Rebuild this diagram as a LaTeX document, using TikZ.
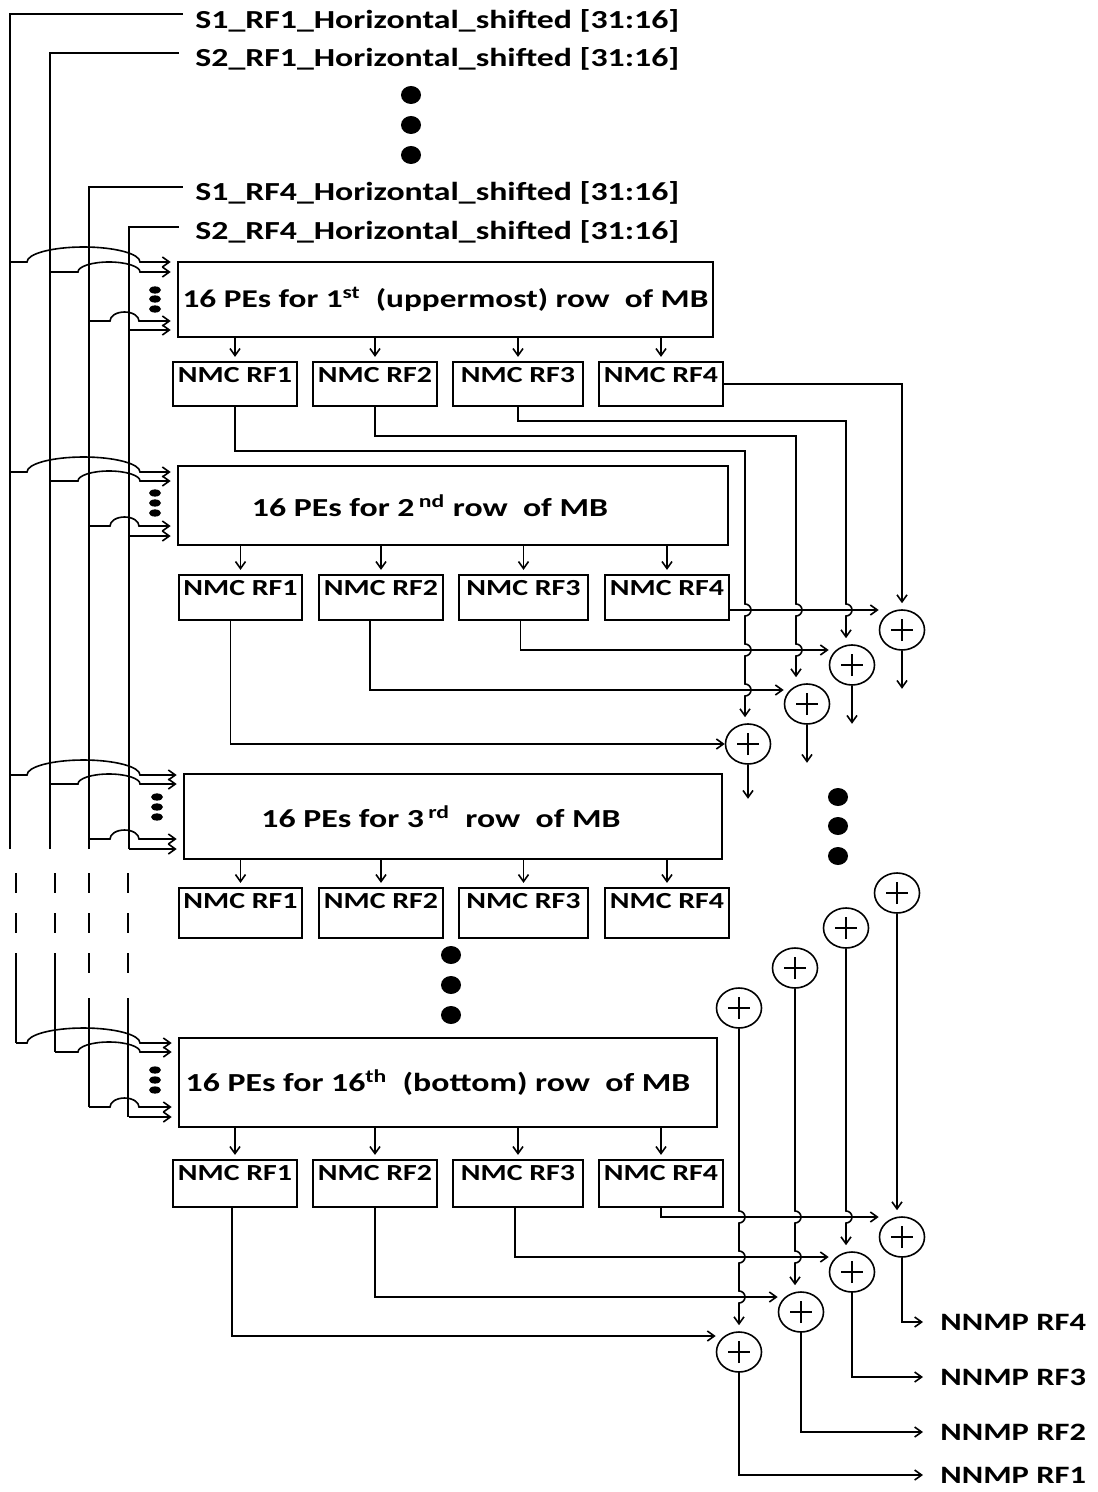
\documentclass[tikz,border=0pt]{standalone}
\usepackage{fontspec}
\setmainfont{Carlito}[FakeStretch=1.3]
\usetikzlibrary{arrows.meta,shapes.geometric}

\newcommand{\bigtxt}{\bfseries\fontsize{13}{15}\selectfont}
\newcommand{\boxtxt}{\bfseries\fontsize{11.5}{13}\selectfont}

% inputs of one PE block: bus x of line 1 and 2, the four heights, block
\newcommand{\pefeed}[7]{%
  \draw[wire,->,shorten >=3pt] (#1,#3) -- (27,#3) arc[start angle=180,end angle=0,x radius=28.25pt,y radius=7.5pt] -- (#7.west |- 0,#3);
  \draw[wire,->,shorten >=3pt] (#2,#4) -- (78,#4) arc[start angle=180,end angle=0,x radius=15.5pt,y radius=5pt] -- (#7.west |- 0,#4);
  \draw[wire,->,shorten >=3pt] (89,#5) -- (110,#5) arc[start angle=180,end angle=0,x radius=7.25pt,y radius=4.5pt] -- (#7.west |- 0,#5);
  \draw[wire,->,shorten >=3pt] (129,#6) -- (#7.west |- 0,#6);
}

\tikzset{
  wire/.style={line width=0.8pt},
  pebox/.style={draw, line width=1.3pt, inner sep=0pt, font=\bigtxt},
  nmcbox/.style={draw, line width=1.1pt, inner xsep=0pt, inner ysep=1pt, text height=9pt, font=\boxtxt},
  adder/.style={draw, line width=0.8pt, ellipse, minimum width=22.5pt, minimum height=20pt, inner sep=0pt,
    path picture={\draw[line width=0.7pt] ([xshift=-5.5pt]path picture bounding box.center) -- ([xshift=5.5pt]path picture bounding box.center)
      ([yshift=-5.5pt]path picture bounding box.center) -- ([yshift=5.5pt]path picture bounding box.center);}},
  busname/.style={font=\bigtxt, anchor=west, inner sep=0pt},
  outname/.style={font=\bfseries\fontsize{12.5}{15}\selectfont, anchor=west, inner sep=0pt},
}

\begin{document}
\begin{tikzpicture}[x=0.5pt,y=-0.5pt,>={Straight Barb[length=3.5pt,width=5pt]}]
\useasboundingbox (0,0) rectangle (1097,1492);

% Bus names
\node[busname] (s1rf1) at (195,21) {S1\_RF1\_Horizontal\_shifted [31:16]};
\node[busname] (s2rf1) at (195,59) {S2\_RF1\_Horizontal\_shifted [31:16]};
\node[busname] (s1rf4) at (195,193) {S1\_RF4\_Horizontal\_shifted [31:16]};
\node[busname] (s2rf4) at (195,232) {S2\_RF4\_Horizontal\_shifted [31:16]};

\fill (411,95) ellipse [x radius=5pt, y radius=4.5pt];
\fill (411,125) ellipse [x radius=5pt, y radius=4.5pt];
\fill (411,155) ellipse [x radius=5pt, y radius=4.5pt];

% Buses
\draw[wire] (10,849) |- ([xshift=-6pt,yshift=3.5pt]s1rf1.west);
\draw[wire] (50,849) |- ([xshift=-8pt,yshift=3pt]s2rf1.west);
\draw[wire] (89,849) |- ([xshift=-6pt,yshift=3pt]s1rf4.west);
\draw[wire] (129,849) |- ([xshift=-8pt,yshift=2.5pt]s2rf4.west);

\draw[wire] (16,873) -- (16,893) (16,913) -- (16,933) (16,953) -- (16,1043);
\draw[wire] (55,873) -- (55,893) (55,913) -- (55,933) (55,953) -- (55,1052);
\draw[wire] (89,873) -- (89,893) (89,913) -- (89,933) (89,953) -- (89,973) (89,998) -- (89,1107);
\draw[wire] (128,873) -- (128,893) (128,913) -- (128,933) (128,953) -- (128,973) (128,998) -- (128,1117);

% PE blocks
\node[pebox, minimum width=267.5pt, minimum height=37.5pt, font=\bfseries\fontsize{12.8}{15}\selectfont] (pe1) at (445.5,299.5) {16 PEs for 1\textsuperscript{st}\ \ (uppermost) row\ \ of MB};
\node[pebox, minimum width=275pt, minimum height=39.5pt] (pe2) at (453,505.5) {16 PEs for 2\,\textsuperscript{nd} row\ \ of MB\hspace*{23pt}};
\node[pebox, minimum width=269pt, minimum height=42.5pt] (pe3) at (453,816.5) {16 PEs for 3\,\textsuperscript{rd}\ \ row\ \ of MB\hspace*{12pt}};
\node[pebox, minimum width=269pt, minimum height=44.5pt] (pe4) at (448,1082.5) {16 PEs for 16\textsuperscript{th}\ \ (bottom) row\ \ of MB\hspace*{10pt}};

\pefeed{10}{50}{262}{272}{321}{330}{pe1}
\pefeed{10}{50}{472}{481}{526}{536}{pe2}
\pefeed{10}{50}{775}{784}{839}{849}{pe3}
\pefeed{16}{55}{1043}{1052}{1107}{1117}{pe4}

\fill (155,290) ellipse [x radius=3pt, y radius=1.8pt];
\fill (155,299) ellipse [x radius=3pt, y radius=1.8pt];
\fill (155,309) ellipse [x radius=3pt, y radius=1.8pt];
\fill (155,493) ellipse [x radius=3pt, y radius=1.8pt];
\fill (155,503) ellipse [x radius=3pt, y radius=1.8pt];
\fill (155,513) ellipse [x radius=3pt, y radius=1.8pt];
\fill (157,797) ellipse [x radius=3pt, y radius=1.8pt];
\fill (157,807) ellipse [x radius=3pt, y radius=1.8pt];
\fill (157,817) ellipse [x radius=3pt, y radius=1.8pt];
\fill (155,1070) ellipse [x radius=3pt, y radius=1.8pt];
\fill (155,1080) ellipse [x radius=3pt, y radius=1.8pt];
\fill (155,1090) ellipse [x radius=3pt, y radius=1.8pt];

% NMC register files
\node[nmcbox, text depth=11pt, minimum width=62pt] (nmc11) at (235,384) {NMC RF1};
\node[nmcbox, text depth=11pt, minimum width=62pt] (nmc12) at (375,384) {NMC RF2};
\node[nmcbox, text depth=11pt, minimum width=65pt] (nmc13) at (518,384) {NMC RF3};
\node[nmcbox, text depth=11pt, minimum width=62pt] (nmc14) at (661,384) {NMC RF4};

\node[nmcbox, text depth=11.5pt, minimum width=61.5pt] (nmc21) at (240.5,597.5) {NMC RF1};
\node[nmcbox, text depth=11.5pt, minimum width=62pt] (nmc22) at (381,597.5) {NMC RF2};
\node[nmcbox, text depth=11.5pt, minimum width=64.5pt] (nmc23) at (523.5,597.5) {NMC RF3};
\node[nmcbox, text depth=11.5pt, minimum width=62pt] (nmc24) at (667,597.5) {NMC RF4};

\node[nmcbox, text depth=14pt, minimum width=61.5pt] (nmc31) at (240.5,913) {NMC RF1};
\node[nmcbox, text depth=14pt, minimum width=62pt] (nmc32) at (381,913) {NMC RF2};
\node[nmcbox, text depth=14pt, minimum width=64.5pt] (nmc33) at (523.5,913) {NMC RF3};
\node[nmcbox, text depth=14pt, minimum width=62pt] (nmc34) at (667,913) {NMC RF4};

\node[nmcbox, text depth=12.5pt, minimum width=62pt] (nmc41) at (235,1183.5) {NMC RF1};
\node[nmcbox, text depth=12.5pt, minimum width=62pt] (nmc42) at (375,1183.5) {NMC RF2};
\node[nmcbox, text depth=12.5pt, minimum width=65pt] (nmc43) at (518,1183.5) {NMC RF3};
\node[nmcbox, text depth=12.5pt, minimum width=62pt] (nmc44) at (661,1183.5) {NMC RF4};

\draw[wire,shorten >=2pt] (nmc11.north |- pe1.south) edge[->] (nmc11.north) (nmc12.north |- pe1.south) edge[->] (nmc12.north)
  (nmc13.north |- pe1.south) edge[->] (nmc13.north) (nmc14.north |- pe1.south) edge[->] (nmc14.north);
\draw[wire,shorten >=2pt] (nmc21.north |- pe2.south) edge[->] (nmc21.north) (nmc22.north |- pe2.south) edge[->] (nmc22.north)
  (nmc23.north |- pe2.south) edge[->] (nmc23.north) (nmc24.north |- pe2.south) edge[->] (nmc24.north);
\draw[wire,shorten >=2pt] (nmc31.north |- pe3.south) edge[->] (nmc31.north) (nmc32.north |- pe3.south) edge[->] (nmc32.north)
  (nmc33.north |- pe3.south) edge[->] (nmc33.north) (nmc34.north |- pe3.south) edge[->] (nmc34.north);
\draw[wire,shorten >=2pt] (nmc41.north |- pe4.south) edge[->] (nmc41.north) (nmc42.north |- pe4.south) edge[->] (nmc42.north)
  (nmc43.north |- pe4.south) edge[->] (nmc43.north) (nmc44.north |- pe4.south) edge[->] (nmc44.north);

% Adders, rows 1 and 2
\node[adder] (a4) at (902,630) {};
\node[adder] (a3) at (852,665) {};
\node[adder] (a2) at (807,704) {};
\node[adder] (a1) at (748,744) {};

\draw[wire,->,shorten >=3pt] (nmc11.south) |- (745,451) -- (745,604) arc[start angle=90,end angle=-90,radius=3pt]
  -- (745,644) arc[start angle=90,end angle=-90,radius=3pt] -- (745,684) arc[start angle=90,end angle=-90,radius=3pt] -- (a1.north -| 745,0);
\draw[wire,->,shorten >=3pt] (nmc12.south) |- (796,436) -- (796,604) arc[start angle=90,end angle=-90,radius=3pt]
  -- (796,644) arc[start angle=90,end angle=-90,radius=3pt] -- (a2.north -| 796,0);
\draw[wire,->,shorten >=3pt] (nmc13.south) |- (846,421) -- (846,604) arc[start angle=90,end angle=-90,radius=3pt] -- (a3.north -| 846,0);
\draw[wire,->,shorten >=3pt] (nmc14.east) -| (a4.north);

\draw[wire,->] (nmc24.east |- 0,610) -- (a4.west |- 0,610);
\draw[wire,->] ([xshift=-1.5pt]nmc23.south) |- (a3.west |- 0,650);
\draw[wire,->] ([xshift=-5.5pt]nmc22.south) |- (a2.west |- 0,690);
\draw[wire,->] ([xshift=-5pt]nmc21.south) |- (a1.west);

\draw[wire,->] (a4.south) -- ++(0,38);
\draw[wire,->] (a3.south) -- ++(0,38);
\draw[wire,->] (a2.south) -- ++(0,38);
\draw[wire,->] (a1.south) -- ++(0,34);

\fill (838,797) ellipse [x radius=5pt, y radius=4.5pt];
\fill (838,826) ellipse [x radius=5pt, y radius=4.5pt];
\fill (838,856) ellipse [x radius=5pt, y radius=4.5pt];

\fill (451,955) ellipse [x radius=5pt, y radius=4.5pt];
\fill (451,985) ellipse [x radius=5pt, y radius=4.5pt];
\fill (451,1015) ellipse [x radius=5pt, y radius=4.5pt];

% Adders, rows 15 and 16
\node[adder] (b4) at (897,893) {};
\node[adder] (b3) at (846,928) {};
\node[adder] (b2) at (795,968) {};
\node[adder] (b1) at (739,1008) {};

\node[adder] (c4) at (902,1237) {};
\node[adder] (c3) at (852,1272) {};
\node[adder] (c2) at (801,1312) {};
\node[adder] (c1) at (739,1352) {};

\draw[wire,->,shorten >=3pt] (b4.south) -- (c4.north -| b4.south);
\draw[wire,->,shorten >=3pt] (b3.south) -- (846,1211) arc[start angle=90,end angle=-90,radius=3pt] -- (c3.north -| b3.south);
\draw[wire,->,shorten >=3pt] (b2.south) -- (795,1211) arc[start angle=90,end angle=-90,radius=3pt]
  -- (795,1251) arc[start angle=90,end angle=-90,radius=3pt] -- (c2.north -| b2.south);
\draw[wire,->,shorten >=3pt] (b1.south) -- (739,1211) arc[start angle=90,end angle=-90,radius=3pt]
  -- (739,1251) arc[start angle=90,end angle=-90,radius=3pt] -- (739,1291) arc[start angle=90,end angle=-90,radius=3pt] -- (c1.north -| b1.south);

\draw[wire,->] (nmc44.south) |- (c4.west |- 0,1217);
\draw[wire,->] ([xshift=-1.5pt]nmc43.south) |- (c3.west |- 0,1257);
\draw[wire,->] (nmc42.south) |- (c2.west |- 0,1297);
\draw[wire,->] ([xshift=-1.5pt]nmc41.south) |- (c1.west |- 0,1336);

% Outputs
\node[outname] (nnmp4) at (940,1322) {NNMP RF4};
\node[outname] (nnmp3) at (940,1377) {NNMP RF3};
\node[outname] (nnmp2) at (940,1432) {NNMP RF2};
\node[outname] (nnmp1) at (940,1475) {NNMP RF1};

\draw[wire,->,shorten >=8.5pt] (c4.south) |- (nnmp4.west);
\draw[wire,->,shorten >=8.5pt] (c3.south) |- (nnmp3.west);
\draw[wire,->,shorten >=8.5pt] (c2.south) |- (nnmp2.west);
\draw[wire,->,shorten >=8.5pt] (c1.south) |- (nnmp1.west);
\end{tikzpicture}
\end{document}
